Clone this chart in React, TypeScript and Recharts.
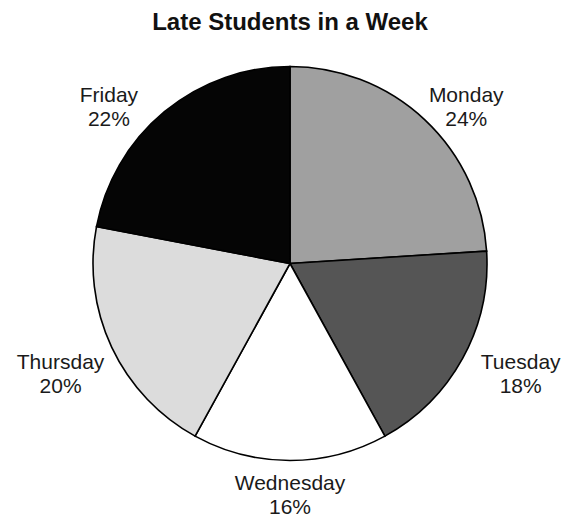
import React from "react";
import { PieChart, Pie, Cell } from "recharts";

const days = ["Monday", "Tuesday", "Wednesday", "Thursday", "Friday"];
const shares = [24, 18, 16, 20, 22];
const colors = ["#a0a0a0", "#555555", "#ffffff", "#dcdcdc", "#050505"];
// small nudges (px) applied to each label after placing it along the slice's mid-angle
const labelNudge: [number, number][] = [
  [14, 16],
  [23, -4],
  [0, -6],
  [-15, 9],
  [-30, 26],
];

const data = days.map((d, i) => ({ name: d, value: shares[i] }));

const RAD = Math.PI / 180;
const FONT = "'Liberation Sans', Arial, sans-serif";

const renderLabel = (props: any) => {
  const { cx, cy, midAngle, outerRadius, index, name, value } = props;
  const r = outerRadius + 40;
  const x = cx + r * Math.cos(-midAngle * RAD) + labelNudge[index][0];
  const y = cy + r * Math.sin(-midAngle * RAD) + labelNudge[index][1];
  return (
    <text
      x={x}
      y={y}
      textAnchor="middle"
      fill="#1a1a1a"
      style={{ fontFamily: FONT, fontSize: 21 }}
    >
      <tspan x={x} y={y - 12} dominantBaseline="central">
        {name}
      </tspan>
      <tspan x={x} y={y + 12} dominantBaseline="central">
        {value}%
      </tspan>
    </text>
  );
};

export default function App() {
  return (
    <div style={{ position: "absolute", left: 0, top: 0, width: 574, height: 519, background: "#fff" }}>
      <div
        style={{
          position: "absolute",
          left: 0,
          width: 580,
          top: 8,
          textAlign: "center",
          fontFamily: FONT,
          fontWeight: "bold",
          fontSize: 24,
          lineHeight: "28px",
          color: "#111",
        }}
      >
        Late Students in a Week
      </div>
      <PieChart width={574} height={519} margin={{ top: 0, right: 0, bottom: 0, left: 0 }}>
        <Pie
          data={data}
          dataKey="value"
          nameKey="name"
          cx={290}
          cy={263.5}
          outerRadius={197}
          startAngle={90}
          endAngle={-270}
          stroke="#000"
          strokeWidth={1.6}
          label={renderLabel}
          labelLine={false}
          isAnimationActive={false}
        >
          {data.map((d, i) => (
            <Cell key={d.name} fill={colors[i]} />
          ))}
        </Pie>
      </PieChart>
    </div>
  );
}
